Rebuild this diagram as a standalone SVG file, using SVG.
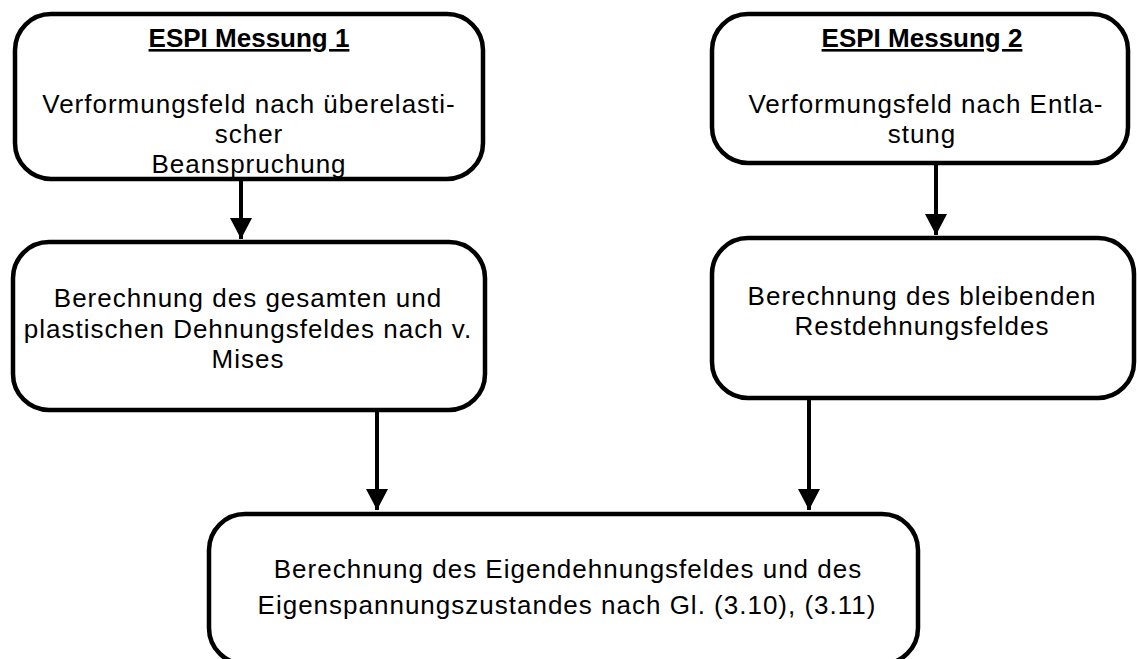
<svg xmlns="http://www.w3.org/2000/svg" width="1137" height="659" viewBox="0 0 1137 659">
<style>
.box{fill:#fff;stroke:#000;stroke-width:4.5}
.t{font-family:"Liberation Sans",Arial,sans-serif;font-size:26px;letter-spacing:1px;text-anchor:middle;fill:#000}
.h{font-family:"Liberation Sans",Arial,sans-serif;font-size:26px;font-weight:bold;text-anchor:middle;text-decoration:underline;fill:#000}
.c{stroke:#000;stroke-width:4;fill:none;marker-end:url(#ah)}
</style>
<defs>
<marker id="ah" markerUnits="userSpaceOnUse" markerWidth="22" markerHeight="22" refX="19" refY="10" orient="auto" viewBox="0 0 20 20">
<path d="M0,0 L19,10 L0,20 Z" fill="#000"/>
</marker>
</defs>
<g id="n1">
<rect class="box" x="15" y="14" width="468" height="165" rx="36"/>
<text class="h" x="249" y="47">ESPI Messung 1</text>
<text class="t" x="249" y="113">Verformungsfeld nach überelasti-</text>
<text class="t" x="249" y="143">scher</text>
<text class="t" x="249" y="173">Beanspruchung</text>
</g>
<g id="n2">
<rect class="box" x="712" y="14" width="416" height="149" rx="36"/>
<text class="h" x="922" y="47">ESPI Messung 2</text>
<text class="t" x="926" y="113">Verformungsfeld nach Entla-</text>
<text class="t" x="922" y="143">stung</text>
</g>
<g id="n3">
<rect class="box" x="13" y="242" width="472" height="168" rx="36"/>
<text class="t" x="248" y="307">Berechnung des gesamten und</text>
<text class="t" x="248" y="338">plastischen Dehnungsfeldes nach v.</text>
<text class="t" x="248" y="368">Mises</text>
</g>
<g id="n4">
<rect class="box" x="712" y="238" width="422" height="160" rx="36"/>
<text class="t" x="922" y="305">Berechnung des bleibenden</text>
<text class="t" x="922" y="335">Restdehnungsfeldes</text>
</g>
<g id="n5">
<rect class="box" x="209" y="514" width="709" height="150" rx="36"/>
<text class="t" x="568" y="578">Berechnung des Eigendehnungsfeldes und des</text>
<text class="t" x="567" y="614">Eigenspannungszustandes nach Gl. (3.10), (3.11)</text>
</g>
<g id="connectors">
<path class="c" d="M241,178 V239"/>
<path class="c" d="M936,163 V235"/>
<path class="c" d="M377,412 V510"/>
<path class="c" d="M809,400 V510"/>
</g>
</svg>
